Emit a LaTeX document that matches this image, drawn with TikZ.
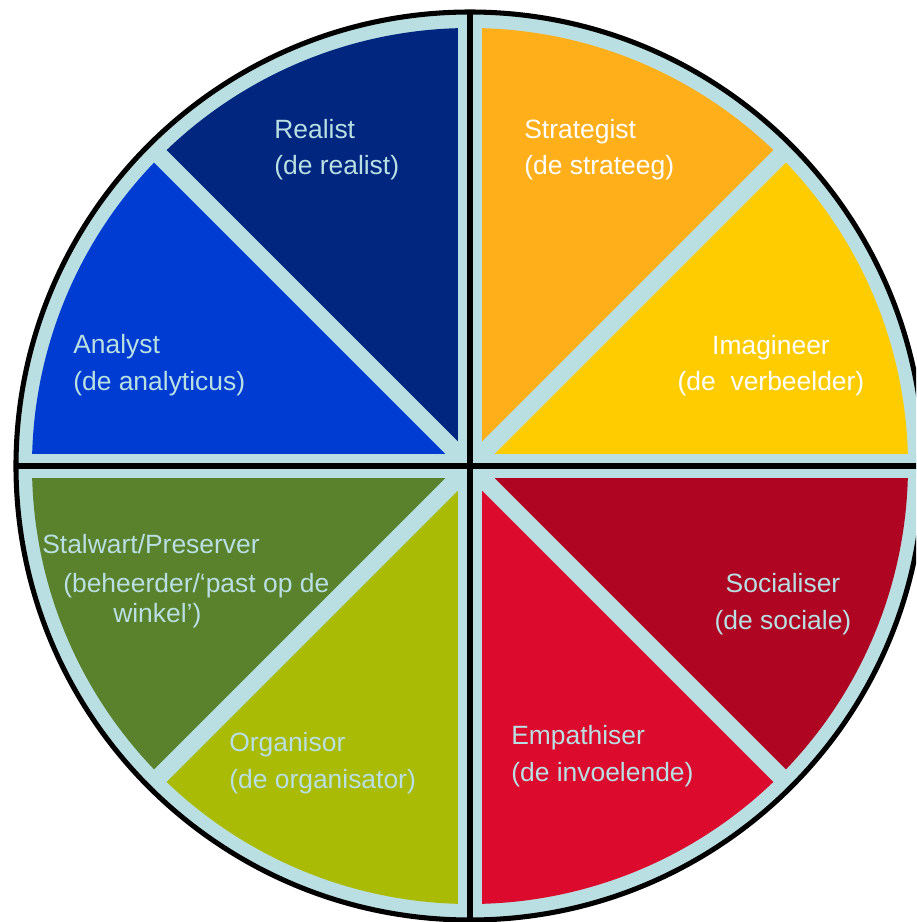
\documentclass[tikz,border=0pt]{standalone}
\usepackage{fontspec}
\setmainfont{Liberation Sans}
\usetikzlibrary{calc}
\definecolor{ring}{HTML}{B9DFE2}
\definecolor{imag}{HTML}{FFCC00}
\definecolor{strat}{HTML}{FFAF19}
\definecolor{real}{HTML}{002680}
\definecolor{anal}{HTML}{003CD2}
\definecolor{stal}{HTML}{5A822D}
\definecolor{orga}{HTML}{AABB05}
\definecolor{empa}{HTML}{DC0A2D}
\definecolor{soci}{HTML}{AF0523}

\begin{document}
\begin{tikzpicture}[x=0.025cm,y=0.025cm,
    lbl/.style={anchor=base west,inner sep=0pt,align=left,text=ring,
      font=\fontsize{18.8}{26}\selectfont},
    lblc/.style={lbl,anchor=base,align=center}]
    \useasboundingbox (-470,-456) rectangle (446,466);
    \clip (-470,-456) rectangle (446,466);
    % disc and ring
    \fill[ring,draw=black,line width=3.6pt] (0,0) circle (454);
    \foreach \a/\c in {0/imag,45/strat,90/real,135/anal,180/stal,225/orga,270/empa,315/soci} {
      \fill[\c] (0,0) -- (\a:438) arc[start angle=\a,end angle=\a+45,radius=438] -- cycle;
    }
    % gaps
    \foreach \a in {45,135,225,315} {
      \draw[ring,line width=12.5pt] (0,0) -- (\a:445);
    }
    \draw[ring,line width=17pt] (-450,0) -- (450,0) (0,-450) -- (0,450);
    \draw[black,line width=4.3pt] (-455,0) -- (455,0) (0,-455) -- (0,455);
    % labels (base = last line)
    \node[lbl] (realist) at (-196,291) {Realist\\(de realist)};
    \node[lbl,text=white] (strategist) at (54,291) {Strategist\\(de strateeg)};
    \node[lbl] (analyst) at (-397,76) {Analyst\\(de analyticus)};
    \node[lblc,text=white] (imagineer) at (301,75) {Imagineer\\(de\ \ verbeelder)};
    \node[lbl] (stalwart) at (-428,-87) {Stalwart/Preserver};
    \node[lbl] (beheerder) at (-407,-126) {(beheerder/‘past op de};
    \node[lbl] (winkel) at (-357,-156) {winkel’)};
    \node[lblc] (socialiser) at (313,-163) {Socialiser\\(de sociale)};
    \node[lbl] (empathiser) at (41,-315) {Empathiser\\(de invoelende)};
    \node[lbl] (organisor) at (-241,-322) {Organisor\\(de organisator)};
  \end{tikzpicture}
\end{document}
